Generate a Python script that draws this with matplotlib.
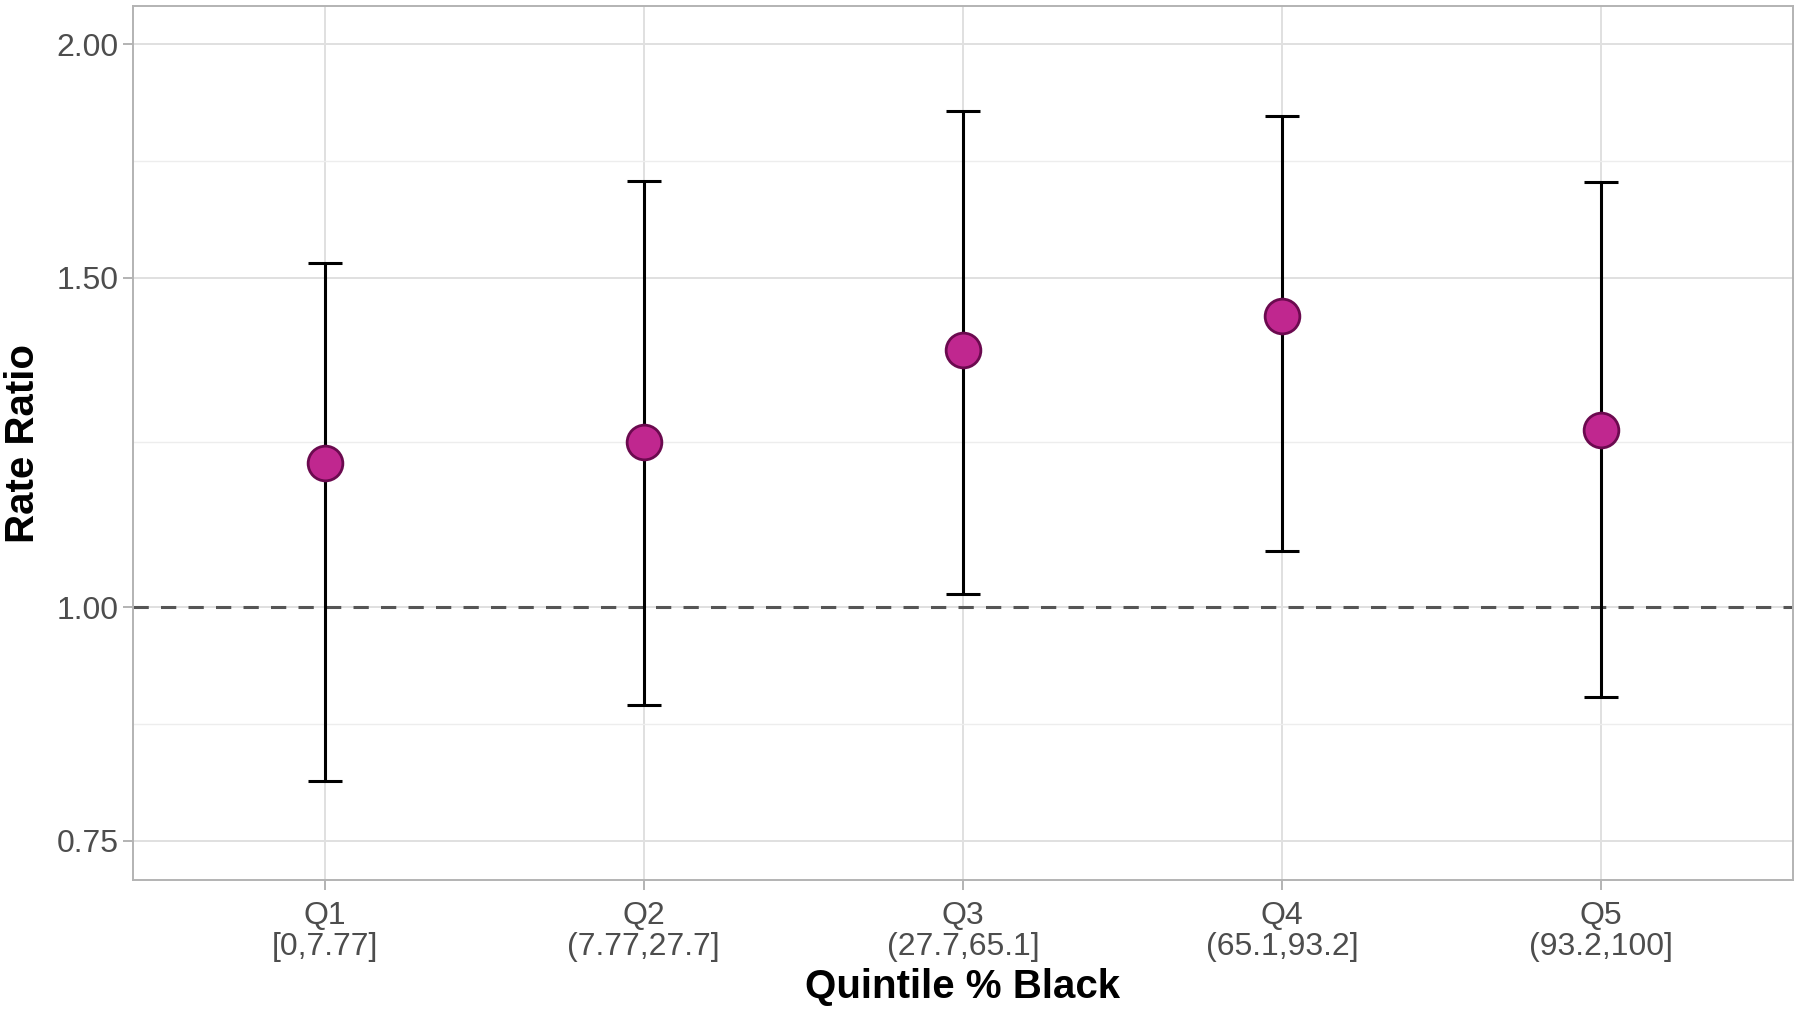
import numpy as np
import matplotlib
matplotlib.use("Agg")
import matplotlib.pyplot as plt
from matplotlib.ticker import FixedLocator, NullFormatter

plt.rcParams['font.family'] = ['Liberation Sans', 'DejaVu Sans']

# data
quintiles = ["Q1", "Q2", "Q3", "Q4", "Q5"]
ranges = ["[0,7.77]", "(7.77,27.7]", "(27.7,65.1]", "(65.1,93.2]", "(93.2,100]"]
rate_ratio = [1.194, 1.225, 1.372, 1.432, 1.244]
ci_low = [0.807, 0.886, 1.016, 1.072, 0.895]
ci_high = [1.528, 1.690, 1.843, 1.830, 1.688]

major_ticks = [0.75, 1.00, 1.50, 2.00]

fig = plt.figure(figsize=(18, 10.1), dpi=100)
ax = fig.add_axes([0.0739, 0.1287, 0.9221, 0.8653])

x = np.arange(1, len(quintiles) + 1)
y = np.array(rate_ratio)
yerr = [y - np.array(ci_low), np.array(ci_high) - y]

ax.set_yscale('log')
ax.set_ylim(0.7147, 2.096)
ax.set_xlim(0.4, 5.6)

# grid like ggplot theme_light
minor = [np.sqrt(a * b) for a, b in zip(major_ticks[:-1], major_ticks[1:])]
ax.yaxis.set_major_locator(FixedLocator(major_ticks))
ax.yaxis.set_minor_locator(FixedLocator(minor))
ax.yaxis.set_minor_formatter(NullFormatter())
ax.set_yticklabels(["%.2f" % t for t in major_ticks])
ax.set_xticks(x)
ax.set_xticklabels([q + "\n" + r for q, r in zip(quintiles, ranges)], linespacing=1.05)

ax.grid(True, which='major', color='#E0E0E0', linewidth=1.4)
ax.grid(True, which='minor', axis='y', color='#EDEDED', linewidth=1.0)
ax.set_axisbelow(True)

ax.axhline(1.0, color='#555555', linewidth=2.2, linestyle=(0, (5, 4)), zorder=2)

ax.errorbar(x, y, yerr=yerr, fmt='none', ecolor='black', elinewidth=2.2,
            capsize=12, capthick=2.2, zorder=3)
ax.plot(x, y, 'o', markersize=25, markerfacecolor='#C0278F',
        markeredgecolor='#6B0A4F', markeredgewidth=2, zorder=4)

for s in ax.spines.values():
    s.set_color('#B3B3B3')
    s.set_linewidth(1.4)

ax.tick_params(axis='both', which='major', colors='#B3B3B3', length=7, width=1.4,
               labelcolor='#4D4D4D', labelsize=23)
ax.tick_params(axis='y', which='minor', length=0)
ax.tick_params(axis='x', pad=8)

ax.set_xlabel("Quintile % Black", fontsize=29, fontweight='bold', labelpad=4)
ax.set_ylabel("Rate Ratio", fontsize=29, fontweight='bold', labelpad=10)

fig.savefig("out.png", dpi=100)
